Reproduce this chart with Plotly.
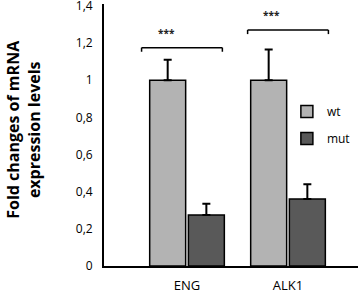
import plotly.graph_objects as go

categories = ["ENG", "ALK1"]
cat_pos = [0, 1]
wt_values = [1.0, 1.0]
wt_err = [0.11, 0.165]
mut_values = [0.275, 0.36]
mut_err = [0.06, 0.08]
y_ticks = [0, 0.2, 0.4, 0.6, 0.8, 1.0, 1.2, 1.4]
y_ticktext = ["0", "0,2", "0,4", "0,6", "0,8", "1", "1,2", "1,4"]
# significance brackets: (x_left, x_right, y_bar, stars_x, stars_y)
brackets = [
    (-0.45, 0.35, 1.175, -0.20, 1.255),
    (0.60, 1.40, 1.27, 0.84, 1.35),
]
sig_label = "***"

font = "'Open Sans', sans-serif"

fig = go.Figure()
fig.add_trace(go.Bar(
    x=cat_pos, y=wt_values, name="wt", legendgroup="a",
    marker=dict(color="#b3b3b3", line=dict(color="black", width=1.5)),
    error_y=dict(type="data", array=wt_err, arrayminus=[0, 0], symmetric=False,
                 color="black", thickness=2, width=4),
))
fig.add_trace(go.Bar(
    x=cat_pos, y=mut_values, name="mut", legendgroup="b",
    marker=dict(color="#595959", line=dict(color="black", width=1.5)),
    error_y=dict(type="data", array=mut_err, arrayminus=[0, 0], symmetric=False,
                 color="black", thickness=2, width=4),
))

for x0, x1, y, sx, sy in brackets:
    tick = 0.022
    fig.add_shape(type="line", x0=x0, x1=x1, y0=y, y1=y, xref="x", yref="y",
                  line=dict(color="black", width=1.5))
    fig.add_shape(type="line", x0=x0, x1=x0, y0=y - tick, y1=y, xref="x", yref="y",
                  line=dict(color="black", width=1.5))
    fig.add_shape(type="line", x0=x1, x1=x1, y0=y - tick, y1=y, xref="x", yref="y",
                  line=dict(color="black", width=1.5))
    fig.add_annotation(x=sx, y=sy, text=f"<b>{sig_label}</b>", showarrow=False,
                       xref="x", yref="y",
                       font=dict(family=font, size=10, color="#222222"))

fig.add_annotation(xref="paper", yref="paper", x=(24 - 104) / 254, y=0.52,
                   text="<b>Fold changes of mRNA<br>expression levels</b>",
                   textangle=-90, showarrow=False, xanchor="center", yanchor="middle",
                   font=dict(family=font, size=16, color="black"))

fig.update_layout(
    width=358, height=290,
    margin=dict(l=104, r=0, t=4, b=24, autoexpand=False),
    plot_bgcolor="white", paper_bgcolor="white",
    barmode="group", bargap=0.234, bargroupgap=0.07,
    font=dict(family=font, size=12, color="black"),
    showlegend=True,
    legend=dict(x=0.72, y=0.645, xanchor="left", yanchor="top",
                tracegroupgap=8, traceorder="grouped",
                font=dict(family=font, size=12, color="black"),
                bgcolor="rgba(0,0,0,0)"),
    xaxis=dict(range=[-0.822, 1.693], tickvals=cat_pos, ticktext=categories,
               showline=True, linecolor="black", linewidth=2, showgrid=False,
               zeroline=False, ticks="outside", ticklen=6, tickcolor="rgba(0,0,0,0)",
               ticklabeloverflow="allow",
               tickfont=dict(family=font, size=13)),
    yaxis=dict(range=[0, 1.41], tickvals=y_ticks, ticktext=y_ticktext,
               showline=True, linecolor="black", linewidth=2, showgrid=False,
               zeroline=False, ticks="outside", ticklen=7, tickcolor="rgba(0,0,0,0)",
               ticklabeloverflow="allow",
               tickfont=dict(family=font, size=12)),
)

fig.write_html("out.html", config={"displayModeBar": False},
               post_script="document.body.style.margin='0';document.body.style.overflow='hidden';")
